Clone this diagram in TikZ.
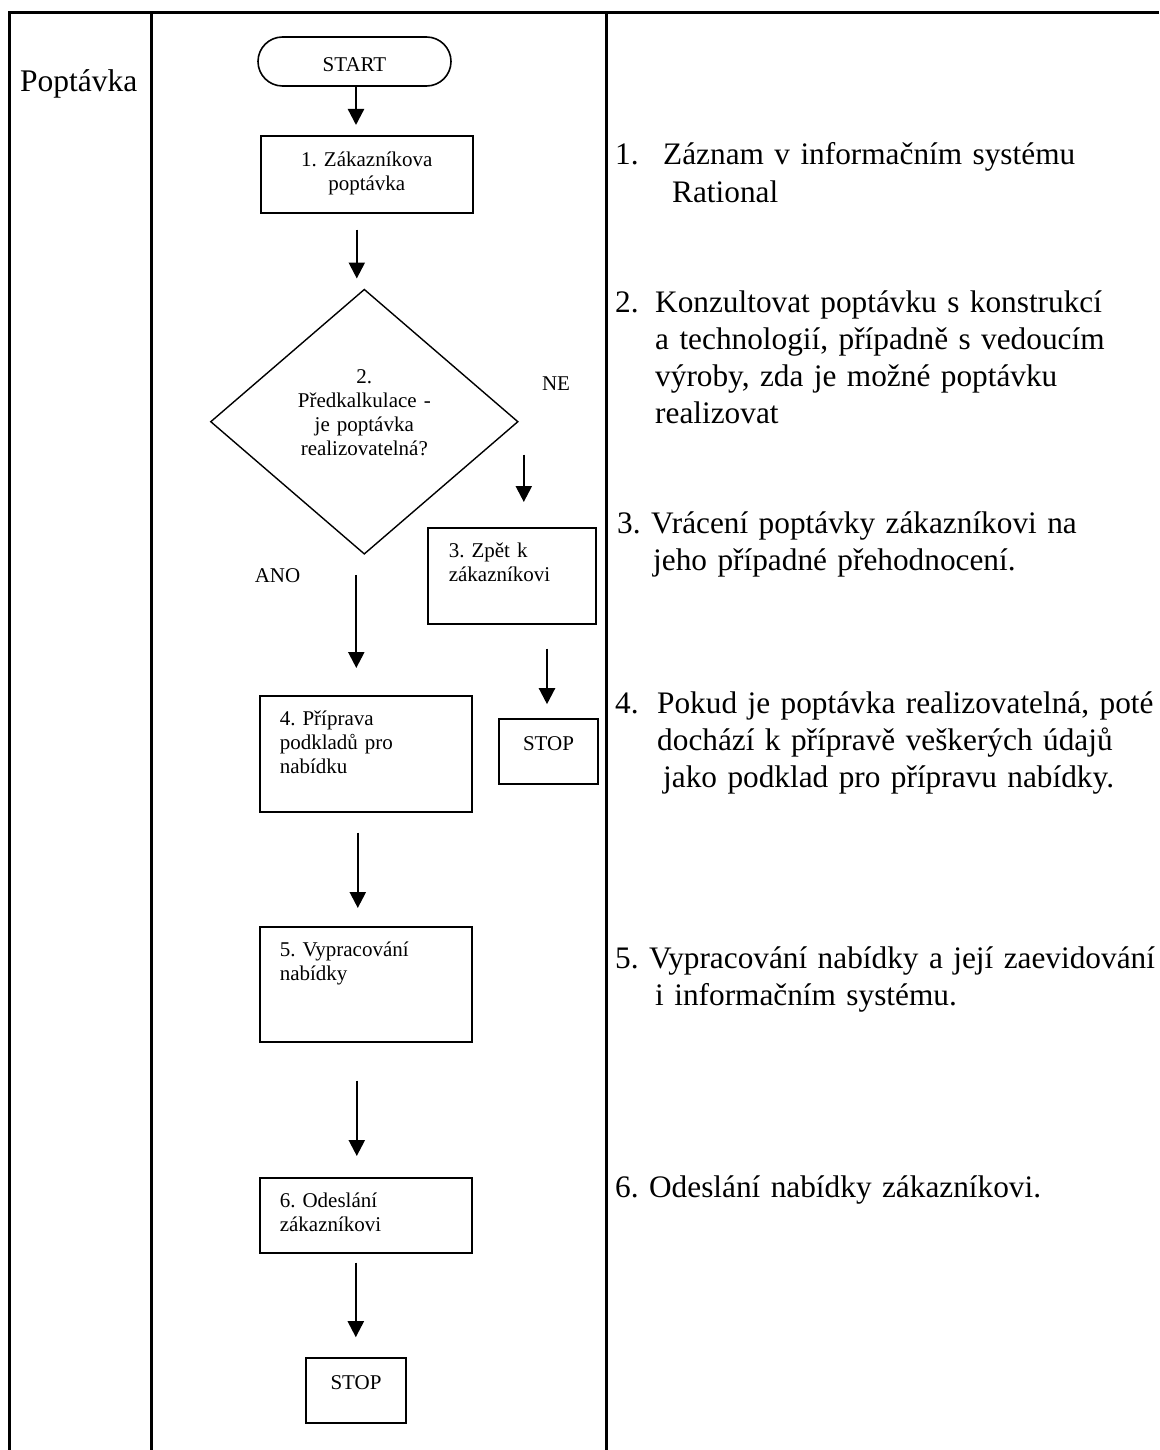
\documentclass[tikz,border=0pt]{standalone}
\usepackage{fontspec}
\setmainfont{Liberation Serif}
\frenchspacing
\usetikzlibrary{arrows.meta,shapes.geometric,calc}
\begin{document}
\begin{tikzpicture}[x=1pt,y=-1pt,
  frame/.style={line width=3pt, line join=miter},
  box/.style={draw, line width=1.6pt, rectangle, inner ysep=0pt, font=\frenchspacing\fontsize{21}{24}\selectfont},
  lbox/.style={box, align=left, inner xsep=20pt, text width=172pt, anchor=north west},
  arr/.style={line width=2.3pt, -{Triangle[width=16pt,length=16pt]}},
  small/.style={font=\fontsize{21}{24}\selectfont, inner sep=0pt},
  desc/.style={font=\frenchspacing\fontsize{31.3}{37}\selectfont, inner sep=0pt, align=left, text width=600pt, anchor=base west},
]
\useasboundingbox (0,0) rectangle (1159,1450);
\fill[white] (0,0) rectangle (1159,1450);

% table frame
\draw[frame] (9,1450) -- (9,12.3) -- (1159,12.3);
\draw[frame] (151,12.3) -- (151,1450);
\draw[frame] (606,12.3) -- (606,1450);

% lane label
\node[anchor=base west, inner sep=0pt, font=\fontsize{31.5}{36}\selectfont] (lane) at (20,92) {Poptávka};

% flowchart
\node[box, rounded corners=24.5pt, minimum width=193pt, minimum height=49pt, text height=21pt, text depth=0pt] (start) at (354.5,61.5) {START};
\node[box, align=center, inner xsep=20pt, text width=172pt, text height=31pt, text depth=46pt, anchor=north west] (b1) at (260,135) {1. Zákazníkova\\poptávka};
\node[draw, line width=1.4pt, diamond, minimum width=307.6pt, minimum height=265pt, inner sep=0pt, align=center, text width=150pt, text height=14pt, text depth=91pt, font=\frenchspacing\fontsize{21}{24}\selectfont] (d) at (364.3,421.7) {2.\\Předkalkulace -\\je poptávka\\realizovatelná?};
\node[lbox, inner xsep=21pt, text width=126pt, text height=30pt, text depth=66pt] (b3) at (427,527) {3. Zpět k\\zákazníkovi};
\node[box, minimum width=99pt, minimum height=65pt, text height=15pt, text depth=18pt] (stop1) at (548.5,751.5) {STOP};
\node[lbox, text height=30pt, text depth=86pt] (b4) at (259,695) {4. Příprava\\podkladů pro\\nabídku};
\node[lbox, text height=30pt, text depth=85pt] (b5) at (259,926) {5. Vypracování\\nabídky};
\node[lbox, text height=30pt, text depth=45pt] (b6) at (259,1177) {6. Odeslání\\zákazníkovi};
\node[box, minimum width=100pt, minimum height=65pt, text height=15pt, text depth=18pt] (stop2) at (356,1390.5) {STOP};

\node[small, anchor=base] (ne) at (556,390) {NE};
\node[small, anchor=base] (ano) at (277.5,582) {ANO};

% connectors
\draw[arr, shorten >=10pt] ($(start.south)+(1.5,0)$) -- ($(start.south |- b1.north)+(1.5,0)$);
\draw[arr, shorten <=16pt, shorten >=10pt] ($(b1.south)+(-10,0)$) -- ($(b1.south |- d.north)+(-10,0)$);
\draw[arr, shorten <=33pt, shorten >=25pt] ($(b3.north |- d.east)+(12,0)$) -- ($(b3.north)+(12,0)$);
\draw[arr, shorten <=20pt, shorten >=27pt] ($(d.south)+(-8,0)$) -- ($(d.south |- b4.north)+(-8,0)$);
\draw[arr, shorten <=24pt, shorten >=14pt] ($(stop1.north |- b3.south)+(-1.5,0)$) -- ($(stop1.north)+(-1.5,0)$);
\draw[arr, shorten <=20pt, shorten >=18pt] ($(b4.south)+(-8,0)$) -- ($(b4.south |- b5.north)+(-8,0)$);
\draw[arr, shorten <=38pt, shorten >=21pt] ($(b5.south)+(-9,0)$) -- ($(b5.south |- b6.north)+(-9,0)$);
\draw[arr, shorten <=9pt, shorten >=20pt] ($(b6.south)+(-10,0)$) -- ($(b6.south |- stop2.north)+(-10,0)$);

% descriptions
\node[desc] (t1) at (615,165) {\makebox[48pt][l]{1.}Záznam v informačním systému\\\hspace*{57pt}Rational};
\node[desc] (t2) at (615,312) {\makebox[40pt][l]{2.}Konzultovat poptávku s konstrukcí\\\hspace*{40pt}a technologií, případně s vedoucím\\\hspace*{40pt}výroby, zda je možné poptávku\\\hspace*{40pt}realizovat};
\node[desc] (t3) at (617,533) {3. Vrácení poptávky zákazníkovi na\\\hspace*{36pt}jeho případné přehodnocení.};
\node[desc] (t4) at (615,713) {\makebox[42pt][l]{4.}Pokud je poptávka realizovatelná, poté\\\hspace*{42pt}dochází k přípravě veškerých údajů\\\hspace*{48pt}jako podklad pro přípravu nabídky.};
\node[desc] (t5) at (615,968) {5. Vypracování nabídky a její zaevidování\\\hspace*{40pt}i informačním systému.};
\node[desc] (t6) at (615,1197) {6. Odeslání nabídky zákazníkovi.};
\end{tikzpicture}
\end{document}
